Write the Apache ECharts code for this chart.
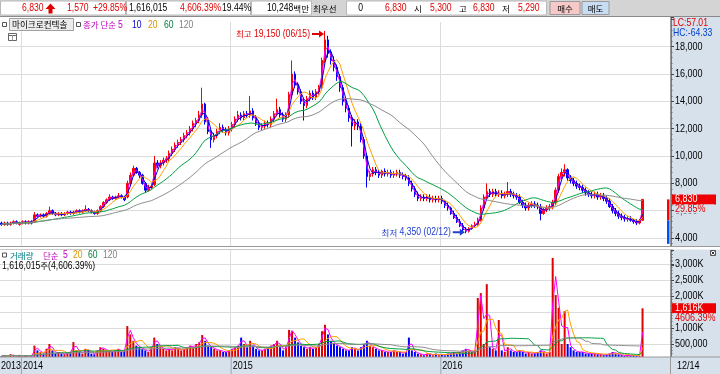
<!DOCTYPE html>
<html><head><meta charset="utf-8">
<script src="https://cdn.jsdelivr.net/npm/echarts@6/dist/echarts.min.js"></script>
<style>html,body{margin:0;padding:0;background:#fff}#c{width:720px;height:374px}</style>
</head><body><div id="c"></div>
<script>
// ---- price data (hundreds of won), one candle ≈ 3.5 trading days ----
const opens=[51,50,51,50,51,52,50,51,52,51,
52,52,57,56,57,56,58,60,58,57,
58,57,58,59,58,59,60,59,60,61,
60,59,58,60,63,66,68,70,69,70,
71,70,70,80,86,91,88,86,80,75,
77,79,95,93,95,97,98,102,105,108,
110,112,115,117,120,124,126,130,138,125,
118,112,115,118,121,119,117,120,123,127,
130,128,131,130,133,128,124,121,122,124,
123,127,131,134,130,127,130,145,160,152,
147,140,137,142,146,143,147,150,170,185,
175,170,165,158,150,140,135,128,122,125,
122,112,100,85,87,90,88,86,89,87,
88,86,87,88,86,85,84,80,76,72,
69,70,69,70,68,69,68,69,67,64,
62,58,55,52,49,46,45,47,49,50,
53,62,70,74,72,74,72,73,71,72,
74,72,71,70,66,64,62,64,65,64,
63,58,61,62,63,66,75,85,88,90,
84,82,80,78,77,75,73,72,71,72,
70,71,69,67,63,60,58,56,55,54,
54,53,52,51,53];
const closes=[50,51,50,51,52,51,51,52,51,52,
51,57,56,57,56,58,60,58,57,58,
57,58,59,58,59,60,59,60,61,60,
59,58,60,63,66,68,70,69,70,71,
70,68,80,86,91,88,86,80,75,77,
78,95,93,95,97,98,102,105,108,110,
112,115,117,120,124,126,130,138,125,118,
112,115,118,121,119,117,120,123,127,130,
128,131,130,133,128,124,121,122,124,123,
127,131,134,130,127,130,145,160,152,147,
140,137,142,146,143,147,150,170,185,175,
170,165,158,150,140,135,128,122,125,122,
112,100,85,87,90,88,86,89,87,88,
86,87,88,86,85,84,80,76,72,69,
70,69,70,68,69,68,69,67,64,62,
58,55,52,49,46,45,47,49,50,53,
62,70,74,72,74,72,73,71,72,74,
72,71,70,66,64,62,64,65,64,63,
58,61,62,63,66,75,85,88,90,84,
82,80,78,77,75,73,72,71,72,70,
71,69,67,63,60,58,56,55,54,54,
53,52,51,52.6,68.3];
const highs=[52,52,52,52,53,53,52,53,53,53,
53,59,58,58,58,59,63,61,59,59,
59,59,60,60,60,61,61,61,64,62,
61,60,61,64,67,69,72,71,71,73,
72,71,82,88,93,92,89,87,81,79,
80,100,97,97,99,100,104,107,110,112,
114,117,119,122,126,128,133,150,139,127,
119,117,120,124,123,121,122,125,129,133,
132,133,133,144,135,130,126,124,126,126,
129,133,142,136,132,132,147,170,162,154,
149,142,144,148,148,149,152,172,191.5,188,
178,173,167,160,152,142,137,130,127,127,
124,114,102,89,92,92,90,90,91,90,
90,89,90,90,88,87,86,82,78,74,
72,72,72,72,71,71,71,71,68,66,
63,60,57,54,51,48,48,50,52,55,
64,72,80,76,76,76,75,75,74,81,
76,74,73,72,68,66,66,67,67,66,
65,62,64,65,68,77,87,91,94,91,
86,84,82,80,79,77,75,74,74,74,
73,73,71,69,65,62,60,58,57,56,
56,54,54,54,68.3];
const lows=[49,49,49,49,50,50,49,50,50,50,
50,51,55,55,55,55,57,57,56,56,
56,56,57,57,57,58,58,58,59,59,
58,57,57,59,62,65,67,68,68,69,
69,67,69,79,85,87,84,79,73,74,
76,78,91,91,93,95,96,100,103,106,
108,110,113,115,118,121,124,128,123,116,
106,110,113,116,117,115,115,118,121,125,
126,126,128,128,126,122,119,119,120,121,
121,125,129,128,125,125,128,143,150,145,
138,126,135,140,141,141,145,148,168,172,
167,162,155,147,137,132,125,107,119,119,
110,98,77,82,85,86,84,84,85,85,
84,84,85,84,83,82,78,74,70,67,
67,67,67,66,66,66,66,65,62,60,
57,54,51,48,45,43.5,44,46,48,49,
52,60,68,70,70,70,70,69,69,70,
70,69,68,65,62,60,60,62,62,61,
53,57,59,60,61,64,73,83,85,82,
80,78,76,75,73,71,70,69,69,68,
68,67,65,62,58,56,54,53,52,52,
52,50.5,49.5,50,52.9];
// volume (thousand shares)
const volumes=[120,150,100,180,130,110,160,120,140,100,
130,450,300,250,200,350,500,300,200,250,
200,180,220,250,560,300,250,200,350,300,
200,180,300,400,350,300,280,250,300,350,
250,300,1060,800,600,450,400,350,300,250,
400,700,500,400,350,300,350,300,400,350,
300,350,400,450,400,500,550,780,600,450,
400,350,300,300,250,250,300,350,400,450,
700,500,400,600,450,350,300,300,350,400,
450,500,600,400,300,400,940,900,700,550,
450,400,350,400,350,400,500,900,1100,800,
600,500,450,400,350,300,300,400,350,300,
400,500,600,450,400,350,300,300,250,250,
250,300,250,250,200,250,700,300,250,200,
180,150,200,180,150,200,150,180,150,200,
200,250,200,250,300,350,300,250,300,1940,
2090,500,2370,400,350,300,1250,300,250,400,
300,250,250,300,250,200,250,200,200,250,
300,250,200,250,3190,2030,1630,500,1530,500,
400,300,250,250,250,200,200,200,200,180,
180,150,180,200,250,200,180,150,130,150,
130,150,130,120,1616.015];
const yearTicks=[[0,'2013'],[7,'2014'],[77,'2015'],[147,'2016']];
const priceTicks=[4000,6000,8000,10000,12000,14000,16000,18000];
const volTicks=[500000,1000000,1500000,2000000,2500000,3000000];
const lastDate='12/14';
const peakDate='06/15', lowDate='02/12';
const stockName='마이크로컨텍솔';
const quoteTexts=['1,616,015','4,606.39%','19.44%','10,248','0'];
const maDays=[5,10,20,60,120];
const maColors=['#ff00ff','#0000cc','#ffa000','#00a040','#8c8c8c'];
const maLegendColors=['#c000c0','#0000c0','#e09000','#008040','#808080'];
const volMaDays=[5,20,60,120];
const volMaColors=['#ff00ff','#ffa000','#00a040','#8c8c8c'];
const volMaLegendColors=['#c000c0','#e09000','#008040','#808080'];
const daysPerCandle=3.5;

// ---- build ----
const SLOTS=224;
const N=closes.length;
const P=v=>Math.round(v*100);
const fmt=v=>Math.round(v).toLocaleString('en-US');
const cats=Array.from({length:SLOTS},(_,i)=>String(i));
const tickSet=new Set(yearTicks.filter(t=>t[0]>0).map(t=>t[0]));
const kdata=closes.map((c,i)=>[P(opens[i]),P(c),P(lows[i]),P(highs[i])]);
const cl=closes.map(P);
const vol=volumes.map(v=>Math.round(v*1000));
function sma(a,n){return a.map((_,i)=>{let s=0,k=0;for(let j=Math.max(0,i-n+1);j<=i;j++){s+=a[j];k++;}return s/k;});}
const win=d=>Math.max(1,Math.ceil(d/daysPerCandle));
const last=N-1;
const lastClose=cl[last], prevClose=cl[last-1];
const hiAll=Math.max(...highs.map(P)), loAll=Math.min(...lows.map(P));
const hiIdx=highs.map(P).indexOf(hiAll), loIdx=lows.map(P).indexOf(loAll);
const chg=lastClose-prevClose, chgPct=chg/prevClose*100;
const LC=(lastClose/loAll-1)*100, HC=(lastClose/hiAll-1)*100;

const LIB='"Liberation Sans",Arial,sans-serif', SX=0.82;
const KR='"Noto Sans CJK KR","Noto Sans",sans-serif';
const panel='#d7e1ec';
const gridC='#dcdcdc';

const series=[];
series.push({type:'candlestick',xAxisIndex:0,yAxisIndex:0,data:kdata,barWidth:2,
  itemStyle:{color:'#ff0000',color0:'#0000ff',borderColor:'#ff0000',borderColor0:'#0000ff',borderWidth:1},z:2});
maDays.forEach((d,k)=>series.push({type:'line',xAxisIndex:0,yAxisIndex:0,data:sma(cl,win(d)).map(Math.round),
  symbol:'none',lineStyle:{width:1,color:maColors[k]},z:3+k}));
series.push({type:'bar',xAxisIndex:1,yAxisIndex:1,barWidth:2,
  data:vol.map((v,i)=>({value:v,itemStyle:{color:closes[i]>=opens[i]?'#e00000':'#0000ff'}})),z:2});
volMaDays.forEach((d,k)=>series.push({type:'line',xAxisIndex:1,yAxisIndex:1,data:sma(vol,win(d)).map(Math.round),
  symbol:'none',lineStyle:{width:1,color:volMaColors[k]},z:3+k}));

const yAx=(gi,min,max,iv)=>({type:'value',gridIndex:gi,position:'right',min,max,interval:iv,
  axisLine:{show:true,lineStyle:{color:'#7a7a7a'}},
  axisTick:{show:true,length:3,lineStyle:{color:'#444'}},
  minorTick:{show:true,splitNumber:5,length:1.5,lineStyle:{color:'#666'}},
  axisLabel:{show:false},
  splitLine:{show:true,lineStyle:{color:gridC},showMinLine:false,showMaxLine:false}});
const chart=echarts.init(document.getElementById('c'));
chart.setOption({
  animation:false,
  backgroundColor:panel,
  grid:[
    {left:0,top:17,width:671,height:248.4,show:true,backgroundColor:'#fff',borderWidth:0,outerBoundsMode:'none'},
    {left:0,top:250,width:671,height:110,show:true,backgroundColor:'#fff',borderWidth:0,outerBoundsMode:'none'}
  ],
  xAxis:[0,1].map(gi=>({type:'category',gridIndex:gi,data:cats,boundaryGap:true,axisLine:{show:false},axisTick:{show:false},axisLabel:{show:false},
      splitLine:{show:true,interval:(i)=>tickSet.has(i),lineStyle:{color:gridC}}})),
  yAxis:[yAx(0,2000,20174,2000),yAx(1,0,3437500,500000)],
  series
});

// ---- overlays positioned from data ----
const px=(idx,val,gi)=>chart.convertToPixel({xAxisIndex:gi,yAxisIndex:gi},[idx,val]);
const g=[];
const ctx=document.createElement('canvas').getContext('2d');
const tw=(t,font)=>{ctx.font=font;return ctx.measureText(t).width;};
const isK=t=>/[가-힣]/.test(t);
const NT=(text,x,y,fill,size,align,z)=>({type:'text',z:z||120,x,y,scaleX:SX,style:{text,x:0,y:0,fill,font:size+'px '+LIB,textAlign:align||'left',verticalAlign:'middle'}});
const KT=(text,x,y,fill,size,align)=>({type:'text',z:120,style:{text,x,y,fill,font:(size||8.5)+'px '+KR,textAlign:align||'left',verticalAlign:'middle'}});
const R=(x,y,w,h,fill,stroke,z)=>({type:'rect',z:z||110,shape:{x,y,width:w,height:h},style:{fill,stroke:stroke||null,lineWidth:1}});
const L=(x1,y1,x2,y2,stroke,z)=>({type:'line',z:z||115,shape:{x1,y1,x2,y2},style:{stroke,lineWidth:1}});
function MX(parts,x,y,fill,align,ks,ns){
  ks=ks||8.5;ns=ns||10.5;
  const ws=parts.map(p=>isK(p)?tw(p,ks+'px '+KR):tw(p,ns+'px '+LIB)*SX);
  let cx=align==='right'?x-ws.reduce((a,b)=>a+b,0):x;
  parts.forEach((p,k)=>{g.push(isK(p)?KT(p,cx,y,fill,ks):NT(p,cx,y,fill,ns));cx+=ws[k];});
}
g.push(R(0,17,670,5,'#fff',null,100));
// top bar
g.push(R(0,0,720,17,'#d4d4d4'));
g.push(L(0,16.5,720,16.5,'#8a8a8a'));
g.push(R(0.5,1,125,14,'#fff','#b8b8b8'),R(126.5,1,124,14,'#fff','#b8b8b8'),R(251.5,1,60,14,'#fff','#b8b8b8'),R(346.5,1,200,14,'#fff','#b8b8b8'));
const HS=10.5;
g.push(NT(fmt(lastClose),22,8.5,'#e00000',HS));
g.push({type:'polygon',z:120,shape:{points:[[45.5,9],[50.5,3.5],[55.5,9],[52.5,9],[52.5,13.5],[48.5,13.5],[48.5,9]]},style:{fill:'#e00000'}});
g.push(NT(fmt(chg),67,8.5,'#e00000',HS));
g.push(NT('+'+chgPct.toFixed(2)+'%',93,8.5,'#e00000',HS));
g.push(NT(quoteTexts[0],129,8.5,'#000',HS));
g.push(NT(quoteTexts[1],180,8.5,'#e00000',HS));
g.push(NT(quoteTexts[2],222,8.5,'#000',HS));
MX([quoteTexts[3],'백만'],267,8.5,'#000','left',8.5,HS);
g.push(KT('최우선',313,8.5,'#000'));
g.push(NT(quoteTexts[4],363,8.5,'#000',HS,'right'));
g.push(NT(fmt(lastClose),385,8.5,'#e00000',HS));
g.push(KT('시',414,8.5,'#000'));
g.push(NT(fmt(P(opens[last])),430,8.5,'#e00000',HS));
g.push(KT('고',459,8.5,'#000'));
g.push(NT(fmt(P(highs[last])),473,8.5,'#e00000',HS));
g.push(KT('저',502,8.5,'#000'));
g.push(NT(fmt(P(lows[last])),518,8.5,'#e00000',HS));
g.push(R(550,1.5,30,13,'#f6c8c8','#9a9a9a'),KT('매수',565,8.5,'#000',8.5,'center'));
g.push(R(582,1.5,27,13,'#c8dcf4','#9a9a9a'),KT('매도',595.5,8.5,'#000',8.5,'center'));
// legend row
g.push(R(2.5,22.5,4,4,'#fff','#555'));
g.push(R(9.5,18.5,64,12,'#ececec','#a0a0a0'));
g.push(KT(stockName,12,25,'#000',8.6));
g.push(R(76.5,22.5,4,4,'#fff','#555'));
g.push(KT('종가 단순',83,25,maLegendColors[0]));
const lx=[118,132,148,164,179];
maDays.forEach((d,k)=>g.push(NT(String(d),lx[k],25,maLegendColors[k],10.5)));
// calendar icon
g.push(R(8.5,33.5,8,7,'#fff','#666'),L(8.5,35.5,16.5,35.5,'#666'),L(12.5,35.5,12.5,40.5,'#999'));
// axis labels
priceTicks.forEach(v=>g.push(NT(fmt(v),675,px(0,v,0)[1],'#000',11)));
volTicks.forEach(v=>g.push(NT(v>=1000000?fmt(v/1000)+'K':fmt(v),675,px(0,v,1)[1],'#000',11)));
// LC/HC
g.push(NT('LC:'+LC.toFixed(2),673,23.5,'#e00000',10.5));
g.push(NT('HC:'+HC.toFixed(2),673,33,'#0040d0',10.5));
// peak & trough labels
const pk=px(hiIdx,hiAll,0), tr=px(loIdx,loAll,0);
MX(['최고',' '+fmt(hiAll)+' ('+peakDate+')'],pk[0]-15,pk[1]+3,'#e00000','right');
g.push({type:'polygon',z:120,shape:{points:[[pk[0]-13,pk[1]+2],[pk[0]-6,pk[1]+2],[pk[0]-6,pk[1]-0.5],[pk[0]-1,pk[1]+3],[pk[0]-6,pk[1]+6.5],[pk[0]-6,pk[1]+4],[pk[0]-13,pk[1]+4]]},style:{fill:'#e00000'}});
MX(['최저',' '+fmt(loAll)+' ('+lowDate+')'],tr[0]-15,tr[1]-1,'#2040d0','right');
g.push({type:'polygon',z:120,shape:{points:[[tr[0]-13,tr[1]-2],[tr[0]-6,tr[1]-2],[tr[0]-6,tr[1]-4.5],[tr[0]-1,tr[1]-1],[tr[0]-6,tr[1]+2.5],[tr[0]-6,tr[1]],[tr[0]-13,tr[1]]]},style:{fill:'#2040d0'}});
// current price marker
const cp=px(last,lastClose,0), op=px(last,P(opens[last]),0);
g.push(R(667,cp[1],2.5,op[1]-cp[1],'#ff0000',null,100));
g.push(R(667,op[1],2.5,(op[1]-cp[1])*Math.abs(HC)/LC,'#0050ff',null,100));
g.push(R(672,cp[1]-5,44,10,'#ee0000',null,121),NT(fmt(lastClose),675,cp[1],'#fff',11,'left',122));
g.push(R(674,cp[1]+5,40,9,panel,null,121),NT(chgPct.toFixed(2)+'%',675,cp[1]+9.5,'#e00000',11,'left',122));
const vp=px(last,vol[last],1);
g.push(R(672,vp[1]-5,44,10,'#ee0000',null,121),NT(fmt(vol[last]/1000)+'K',675,vp[1],'#fff',11,'left',122));
g.push(R(674,vp[1]+5,40,9,panel,null,121),NT(quoteTexts[1].replace(',',''),675,vp[1]+9.5,'#e00000',11,'left',122));
// pane separator
g.push(R(0,246.5,720,3,'#fff',null,100),L(0,246.5,720,246.5,'#9a9a9a'),L(0,249.5,671,249.5,'#c8c8c8'));
// volume legend
g.push(R(2.5,253,4,4,'#fff','#555'));
g.push(KT('거래량',10,255.5,'#008080'));
g.push(KT('단순',43,255.5,volMaLegendColors[0]));
const vx=[63,73,88,103];
volMaDays.forEach((d,k)=>g.push(NT(String(d),vx[k],255.5,volMaLegendColors[k],10.5)));
MX([quoteTexts[0],'주','('+quoteTexts[1]+')'],2,266,'#000','left',8.5,10.5);
g.push(R(710.5,250.5,5,5,'#fff','#555'),L(711.5,251.5,714.5,254.5,'#333'),L(714.5,251.5,711.5,254.5,'#333'));
// x bar with year labels
g.push(R(0,357,720,17,panel,null,50),L(0,357,720,357,'#9a9a9a',55),L(670.5,17,670.5,374,'#9a9a9a',55));
yearTicks.forEach(([i,lab])=>{
  const x=px(i,0,1)[0]-1.5;
  if(i>0) g.push(L(x+0.5,357,x+0.5,374,'#9aa4b0',56));
  g.push(NT(lab,i>0?x+2:1,366,'#000',11));
});
g.push(NT(lastDate,677,366,'#000',11));
chart.setOption({graphic:{elements:g}});
</script></body></html>
